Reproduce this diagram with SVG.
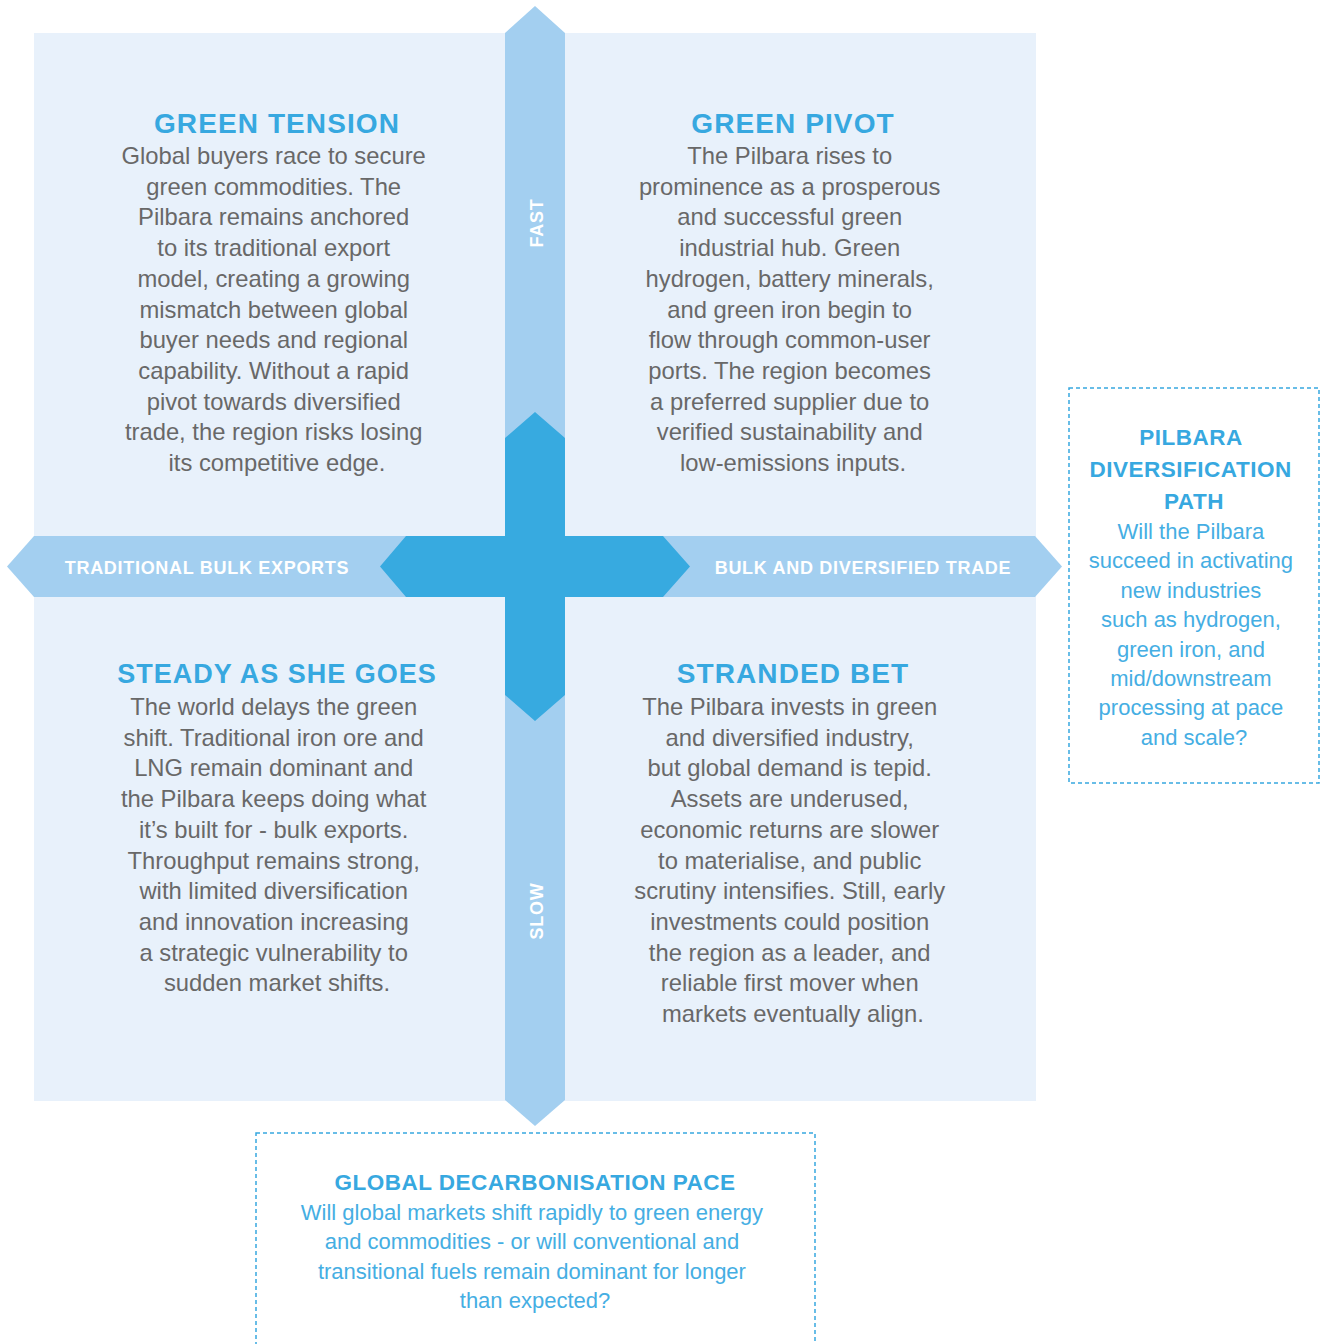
<svg xmlns="http://www.w3.org/2000/svg" width="1322" height="1344" viewBox="0 0 1322 1344">
  <style>
    .title { font-family: "Liberation Sans", Arial, sans-serif; font-weight: bold; fill: #37a8e0; text-anchor: middle; }
    .q-title { font-size: 28px; letter-spacing: 1.1px; }
    .body { font-family: "Liberation Sans", Arial, sans-serif; font-size: 23.8px; fill: #686868; text-anchor: middle; }
    .axis { font-family: "Liberation Sans", Arial, sans-serif; font-weight: bold; font-size: 18px; letter-spacing: 0.7px; fill: #ffffff; text-anchor: middle; }
    .ask { font-family: "Liberation Sans", Arial, sans-serif; font-size: 22px; fill: #45aee3; text-anchor: middle; }
    .driver-title { font-size: 22.5px; letter-spacing: 0.5px; }
    .dashed { fill: none; stroke: #37a8e0; stroke-width: 1.5; stroke-dasharray: 4 3; }
  </style>

  <rect width="1322" height="1344" fill="#ffffff"/>

  <!-- quadrant field -->
  <rect x="34" y="33" width="1002" height="1068" fill="#e8f1fb"/>

  <g id="axes">
    <!-- vertical axis: decarbonisation pace -->
    <polygon points="535,6 565,33 565,1100 535,1126 505,1100 505,33" fill="#a3cff0"/>
    <!-- horizontal axis: trade diversification -->
    <polygon points="7,566.5 34,536 1035,536 1062,566.5 1035,597 34,597" fill="#a3cff0"/>
    <!-- central cross -->
    <polygon points="535,412 565,438 565,536 663,536 690,566.5 663,597 565,597 565,695 535,721 505,695 505,597 406,597 380,566.5 406,536 505,536 505,438" fill="#37aae0"/>
    <text class="axis" x="207" y="574">TRADITIONAL BULK EXPORTS</text>
    <text class="axis" x="863" y="574">BULK AND DIVERSIFIED TRADE</text>
    <text class="axis" transform="translate(542.5,223) rotate(-90)">FAST</text>
    <text class="axis" transform="translate(542.5,911) rotate(-90)">SLOW</text>
  </g>

  <g id="green-tension">
    <text class="title q-title" x="277" y="133">GREEN TENSION</text>
    <text class="body" x="277" y="164">
      <tspan x="277" dy="0">Global buyers race to secure</tspan>
      <tspan x="277" dy="30.7">green commodities. The</tspan>
      <tspan x="277" dy="30.7">Pilbara remains anchored</tspan>
      <tspan x="277" dy="30.7">to its traditional export</tspan>
      <tspan x="277" dy="30.7">model, creating a growing</tspan>
      <tspan x="277" dy="30.7">mismatch between global</tspan>
      <tspan x="277" dy="30.7">buyer needs and regional</tspan>
      <tspan x="277" dy="30.7">capability. Without a rapid</tspan>
      <tspan x="277" dy="30.7">pivot towards diversified</tspan>
      <tspan x="277" dy="30.7">trade, the region risks losing</tspan>
      <tspan x="277" dy="30.7">its competitive edge.</tspan>
    </text>
  </g>

  <g id="green-pivot">
    <text class="title q-title" x="793" y="133">GREEN PIVOT</text>
    <text class="body" x="793" y="164">
      <tspan x="793" dy="0">The Pilbara rises to</tspan>
      <tspan x="793" dy="30.7">prominence as a prosperous</tspan>
      <tspan x="793" dy="30.7">and successful green</tspan>
      <tspan x="793" dy="30.7">industrial hub. Green</tspan>
      <tspan x="793" dy="30.7">hydrogen, battery minerals,</tspan>
      <tspan x="793" dy="30.7">and green iron begin to</tspan>
      <tspan x="793" dy="30.7">flow through common-user</tspan>
      <tspan x="793" dy="30.7">ports. The region becomes</tspan>
      <tspan x="793" dy="30.7">a preferred supplier due to</tspan>
      <tspan x="793" dy="30.7">verified sustainability and</tspan>
      <tspan x="793" dy="30.7">low-emissions inputs.</tspan>
    </text>
  </g>

  <g id="steady-as-she-goes">
    <text class="title q-title" x="277" y="683" style="font-size:27px;letter-spacing:1px">STEADY AS SHE GOES</text>
    <text class="body" x="277" y="715">
      <tspan x="277" dy="0">The world delays the green</tspan>
      <tspan x="277" dy="30.7">shift. Traditional iron ore and</tspan>
      <tspan x="277" dy="30.7">LNG remain dominant and</tspan>
      <tspan x="277" dy="30.7">the Pilbara keeps doing what</tspan>
      <tspan x="277" dy="30.7">it’s built for - bulk exports.</tspan>
      <tspan x="277" dy="30.7">Throughput remains strong,</tspan>
      <tspan x="277" dy="30.7">with limited diversification</tspan>
      <tspan x="277" dy="30.7">and innovation increasing</tspan>
      <tspan x="277" dy="30.7">a strategic vulnerability to</tspan>
      <tspan x="277" dy="30.7">sudden market shifts.</tspan>
    </text>
  </g>

  <g id="stranded-bet">
    <text class="title q-title" x="793" y="683">STRANDED BET</text>
    <text class="body" x="793" y="715">
      <tspan x="793" dy="0">The Pilbara invests in green</tspan>
      <tspan x="793" dy="30.7">and diversified industry,</tspan>
      <tspan x="793" dy="30.7">but global demand is tepid.</tspan>
      <tspan x="793" dy="30.7">Assets are underused,</tspan>
      <tspan x="793" dy="30.7">economic returns are slower</tspan>
      <tspan x="793" dy="30.7">to materialise, and public</tspan>
      <tspan x="793" dy="30.7">scrutiny intensifies. Still, early</tspan>
      <tspan x="793" dy="30.7">investments could position</tspan>
      <tspan x="793" dy="30.7">the region as a leader, and</tspan>
      <tspan x="793" dy="30.7">reliable first mover when</tspan>
      <tspan x="793" dy="30.7">markets eventually align.</tspan>
    </text>
  </g>

  <g id="pilbara-diversification-path">
    <rect class="dashed" x="1069" y="388" width="250" height="395"/>
    <text class="title driver-title" x="1194" y="445">
      <tspan x="1194" dy="0">PILBARA</tspan>
      <tspan x="1194" dy="32">DIVERSIFICATION</tspan>
      <tspan x="1194" dy="32">PATH</tspan>
    </text>
    <text class="ask" x="1194" y="539">
      <tspan x="1194" dy="0">Will the Pilbara</tspan>
      <tspan x="1194" dy="29.4">succeed in activating</tspan>
      <tspan x="1194" dy="29.4">new industries</tspan>
      <tspan x="1194" dy="29.4">such as hydrogen,</tspan>
      <tspan x="1194" dy="29.4">green iron, and</tspan>
      <tspan x="1194" dy="29.4">mid/downstream</tspan>
      <tspan x="1194" dy="29.4">processing at pace</tspan>
      <tspan x="1194" dy="29.4">and scale?</tspan>
    </text>
  </g>

  <g id="global-decarbonisation-pace">
    <rect class="dashed" x="256" y="1133" width="559" height="230"/>
    <text class="title driver-title" x="535" y="1190">GLOBAL DECARBONISATION PACE</text>
    <text class="ask" x="535" y="1220">
      <tspan x="535" dy="0">Will global markets shift rapidly to green energy</tspan>
      <tspan x="535" dy="29.3">and commodities - or will conventional and</tspan>
      <tspan x="535" dy="29.3">transitional fuels remain dominant for longer</tspan>
      <tspan x="535" dy="29.3">than expected?</tspan>
    </text>
  </g>
</svg>
